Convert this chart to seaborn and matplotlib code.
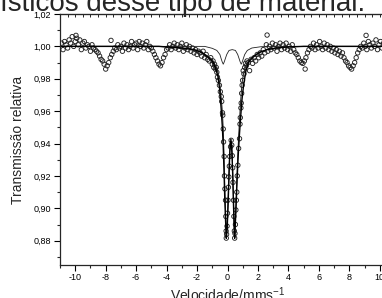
import numpy as np
import pandas as pd
import matplotlib
matplotlib.use("Agg")
import matplotlib.pyplot as plt
import seaborn as sns
from matplotlib.ticker import FuncFormatter, MultipleLocator

# ── data ───────────────────────────────────────────────────
# outer channels (even velocity grid), transmission values
trans_left = [
    1.002, 0.998, 1.003, 1.001, 0.999, 1.004, 1.002, 1.006, 1.000, 1.003,
    1.005, 1.001, 1.004, 0.998, 1.002, 1.003, 0.999, 1.001, 1.000, 0.997,
    1.001, 0.999, 0.998, 0.997, 0.996, 0.994, 0.992, 0.991, 0.989, 0.986,
    0.988, 0.990, 0.993, 0.995, 0.997, 0.999, 0.998, 1.001, 0.999, 1.000,
    0.997, 1.002, 0.999, 1.001, 0.998, 1.000, 1.003, 0.999, 1.001, 1.002,
    0.998, 1.003, 1.000, 1.002, 0.999, 1.001, 1.003, 0.998, 1.000, 0.999,
    0.997, 0.995, 0.993, 0.991, 0.989, 0.988, 0.990, 0.993, 0.995, 0.998,
    0.999, 1.001, 0.998, 1.000, 1.002, 0.999, 1.001, 0.998, 1.000, 1.002,
    0.997, 0.999, 1.001, 0.998, 1.000, 0.997, 0.999, 0.996, 0.998, 0.995,
    0.997, 0.996, 0.994, 0.997, 0.993, 0.995, 0.992,
]
trans_right = [
    0.990, 0.985, 0.992, 0.9895, 0.993, 0.991, 0.995, 0.993, 0.996, 0.994,
    0.998, 0.996, 1.001, 0.997, 1.000, 0.998, 1.002, 0.999, 1.001, 0.997,
    1.000, 1.002, 0.998, 1.001, 0.999, 1.002, 0.998, 1.000, 0.997, 1.001,
    0.998, 0.996, 0.995, 0.993, 0.991, 0.990, 0.9895, 0.991, 0.993, 0.996,
    0.998, 1.000, 0.999, 1.002, 0.998, 1.001, 0.999, 1.003, 1.000, 0.998,
    1.002, 0.999, 1.001, 0.998, 1.000, 0.997, 0.999, 0.996, 0.998, 0.995,
    0.997, 0.994, 0.996, 0.993, 0.991, 0.990, 0.988, 0.987, 0.986, 0.988,
    0.990, 0.993, 0.996, 0.998, 1.000, 0.999, 1.002, 1.000, 0.998, 1.003,
    1.001, 0.999, 1.002, 1.000, 1.004, 0.998, 1.001, 1.003, 0.999, 1.002,
    1.000, 1.001,
]
vel_left = np.linspace(-10.9, -1.3, len(trans_left))
vel_right = np.linspace(1.35, 10.45, len(trans_right))

# central doublet channels
vel_centre = [
    -1.2, -1.1, -1.0, -0.95, -0.9, -0.85, -0.8, -0.74, -0.7, -0.66,
    -0.6, -0.53, -0.47, -0.41, -0.38, -0.33, -0.31, -0.28, -0.26, -0.22,
    -0.2, -0.17, -0.13, -0.11, -0.09, -0.08, -0.06, -0.03, 0.0, 0.03,
    0.06, 0.09, 0.12, 0.15, 0.2, 0.24, 0.28, 0.31, 0.34, 0.36,
    0.39, 0.42, 0.45, 0.47, 0.49, 0.52, 0.55, 0.58, 0.61, 0.64,
    0.68, 0.73, 0.79, 0.82, 0.84, 0.88, 0.9, 0.93, 0.96, 0.99,
    1.03, 1.08, 1.13, 1.18, 1.23, 1.28,
]
trans_centre = [
    0.991, 0.993, 0.989, 0.991, 0.987, 0.989, 0.986, 0.987, 0.984, 0.981,
    0.979, 0.976, 0.972, 0.969, 0.966, 0.959, 0.9575, 0.949, 0.941, 0.932,
    0.920, 0.912, 0.905, 0.895, 0.886, 0.8816, 0.884, 0.889, 0.897, 0.905,
    0.913, 0.9194, 0.926, 0.932, 0.938, 0.942, 0.939, 0.9325, 0.925, 0.916,
    0.905, 0.895, 0.886, 0.8816, 0.8845, 0.890, 0.899, 0.905, 0.910, 0.920,
    0.9266, 0.937, 0.943, 0.952, 0.956, 0.962, 0.965, 0.971, 0.976, 0.979,
    0.985, 0.983, 0.987, 0.9895, 0.988, 0.991,
]
# isolated points
vel_extra = [-7.65, 2.6, 5.1, 9.1, -9.95]
trans_extra = [1.0037, 1.007, 0.986, 1.0068, 1.0068]

# fitted curves
fit_vel = [
    -11.0, -4.5, -3.0, -2.2, -1.7, -1.3, -1.0, -0.8, -0.63, -0.52,
    -0.42, -0.34, -0.28, -0.23, -0.18, -0.13, -0.08, -0.02, 0.04, 0.1,
    0.15, 0.19, 0.22, 0.25, 0.3, 0.35, 0.4, 0.44, 0.47, 0.52,
    0.57, 0.63, 0.7, 0.78, 0.86, 0.95, 1.05, 1.2, 1.4, 1.7,
    2.1, 2.6, 3.2, 4.0, 5.0, 11.0,
]
fit_total = [
    1.0, 1.0, 0.999, 0.998, 0.9963, 0.9935, 0.991, 0.987, 0.9815, 0.974,
    0.962, 0.9505, 0.938, 0.9235, 0.906, 0.893, 0.8815, 0.8875, 0.9025, 0.9205,
    0.934, 0.940, 0.9413, 0.940, 0.933, 0.918, 0.900, 0.8875, 0.8815, 0.8915,
    0.903, 0.9175, 0.932, 0.945, 0.956, 0.967, 0.9755, 0.9845, 0.9905, 0.9935,
    0.9962, 0.998, 0.999, 0.9997, 1.0, 1.0,
]
fit_main = [
    1.0, 1.0, 0.999, 0.998, 0.9965, 0.994, 0.992, 0.9885, 0.984, 0.978,
    0.969, 0.960, 0.949, 0.933, 0.914, 0.899, 0.8825, 0.891, 0.906, 0.923,
    0.936, 0.942, 0.943, 0.942, 0.935, 0.921, 0.903, 0.890, 0.8825, 0.894,
    0.906, 0.922, 0.938, 0.953, 0.966, 0.977, 0.983, 0.988, 0.9915, 0.994,
    0.9965, 0.998, 0.999, 0.9997, 1.0, 1.0,
]
small_vel = [
    -11.0, -1.5, -1.0, -0.7, -0.5, -0.42, -0.35, -0.28, -0.21, -0.14,
    -0.05, 0.1, 0.31, 0.52, 0.67, 0.76, 0.83, 0.9, 0.97, 1.04,
    1.13, 1.3, 1.6, 2.2, 3.0, 11.0,
]
small_fit = [
    1.0, 1.0, 0.9988, 0.9975, 0.995, 0.9925, 0.9905, 0.989, 0.9905, 0.9925,
    0.995, 0.9975, 0.998, 0.9975, 0.995, 0.9925, 0.9905, 0.989, 0.9905, 0.9925,
    0.995, 0.9975, 0.999, 0.9998, 1.0, 1.0,
]

points = pd.DataFrame({
    "vel": np.concatenate([vel_left, vel_centre, vel_right, vel_extra]),
    "trans": np.concatenate([trans_left, trans_centre, trans_right, trans_extra]),
})
total = pd.DataFrame({"vel": fit_vel, "trans": fit_total})
main = pd.DataFrame({"vel": fit_vel, "trans": fit_main})
small = pd.DataFrame({"vel": small_vel, "trans": small_fit})

# ── figure ─────────────────────────────────────────────────
sns.set_style("ticks")
plt.rcParams["font.family"] = ["Liberation Sans", "DejaVu Sans"]
plt.rcParams["axes.unicode_minus"] = False
plt.rcParams["mathtext.default"] = "regular"

fig = plt.figure(figsize=(3.82, 2.98), dpi=100)
ax = fig.add_axes([60 / 382, 33 / 298, 335 / 382, 251 / 298])

sns.lineplot(data=small, x="vel", y="trans", ax=ax, color="#222222",
             lw=0.6, sort=False, estimator=None)
sns.lineplot(data=main, x="vel", y="trans", ax=ax, color="#222222",
             lw=0.7, sort=False, estimator=None)
sns.scatterplot(data=points, x="vel", y="trans", ax=ax, marker="o", s=10,
                facecolor="none", edgecolor="#222222", linewidth=0.65)
sns.lineplot(data=total, x="vel", y="trans", ax=ax, color="black",
             lw=1.0, sort=False, estimator=None)

ax.set_xlim(-11, 11)
ax.set_ylim(0.865, 1.02)
ax.xaxis.set_major_locator(MultipleLocator(2))
ax.xaxis.set_minor_locator(MultipleLocator(1))
ax.yaxis.set_major_locator(MultipleLocator(0.02))
ax.yaxis.set_minor_locator(MultipleLocator(0.01))
ax.yaxis.set_major_formatter(FuncFormatter(lambda v, p: f"{v:.2f}".replace(".", ",")))
ax.tick_params(which="major", length=4, width=0.8, labelsize=6.5, pad=2.5,
               direction="out", colors="black")
ax.tick_params(axis="x", which="major", pad=1.5)
ax.tick_params(which="minor", length=2.5, width=0.8, direction="out")
for s in ax.spines.values():
    s.set_linewidth(0.9)

# top axis ticks pointing inward
top = ax.secondary_xaxis("top")
top.xaxis.set_major_locator(MultipleLocator(0.5))
top.tick_params(direction="in", length=2, width=0.7, labeltop=False)

ax.set_xlabel("Velocidade/mms$^{-1}$", fontsize=10, labelpad=3)
ax.set_ylabel("Transmissão relativa", fontsize=10, labelpad=6)

fig.text(0.0, 1 - 11 / 298, "ísticos desse tipo de material.",
         fontsize=20, va="baseline", ha="left")

fig.savefig("out.png", dpi=100)
